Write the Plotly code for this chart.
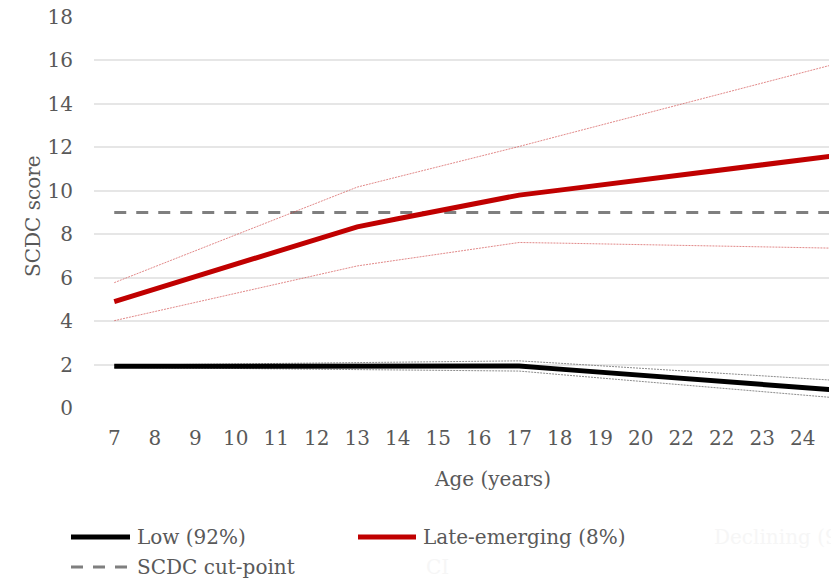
import plotly.graph_objects as go

# Age categories (as labelled on the axis) and a trailing age beyond the visible range
ages = ["7", "8", "9", "10", "11", "12", "13", "14", "15", "16", "17",
        "18", "19", "20", "22", "22", "23", "24", "25"]

# Low trajectory (92%) with confidence interval
low_mean = [1.92, 1.92, 1.92, 1.92, 1.92, 1.91, 1.91, 1.91, 1.91, 1.92, 1.93,
            1.79, 1.65, 1.51, 1.37, 1.23, 1.09, 0.94, 0.80]
low_upper = [1.97, 1.99, 2.01, 2.03, 2.05, 2.07, 2.09, 2.11, 2.13, 2.15, 2.17,
             2.06, 1.94, 1.83, 1.71, 1.60, 1.48, 1.37, 1.25]
low_lower = [1.87, 1.85, 1.83, 1.82, 1.80, 1.78, 1.77, 1.75, 1.73, 1.72, 1.70,
             1.54, 1.38, 1.23, 1.07, 0.91, 0.75, 0.60, 0.44]

# Late-emerging trajectory (8%) with confidence interval
late_mean = [4.90, 5.47, 6.05, 6.62, 7.19, 7.77, 8.34, 8.71, 9.07, 9.44, 9.80,
             10.03, 10.27, 10.50, 10.73, 10.97, 11.20, 11.43, 11.66]
late_upper = [5.77, 6.50, 7.24, 7.97, 8.70, 9.44, 10.17, 10.64, 11.10, 11.57, 12.04,
              12.53, 13.01, 13.50, 13.98, 14.47, 14.96, 15.44, 15.93]
late_lower = [4.02, 4.44, 4.86, 5.28, 5.70, 6.12, 6.54, 6.81, 7.08, 7.35, 7.62,
              7.59, 7.55, 7.52, 7.48, 7.45, 7.42, 7.38, 7.35]

# Clinical cut-point of the SCDC
cut_point = [9] * len(ages)

y_ticks = [0, 2, 4, 6, 8, 10, 12, 14, 16, 18]

x = list(range(len(ages)))
FONT = "DejaVu Serif"
TXT = "#595959"

fig = go.Figure()

fig.add_trace(go.Scatter(x=x, y=cut_point, mode="lines", name="SCDC cut-point",
                         line=dict(color="#7f7f7f", width=3, dash="12px,10px")))

for series in (late_upper, late_lower):
    fig.add_trace(go.Scatter(x=x, y=series, mode="lines", showlegend=False,
                             line=dict(color="rgba(200,40,40,0.55)", width=1, dash="2px,1px")))
for series in (low_upper, low_lower):
    fig.add_trace(go.Scatter(x=x, y=series, mode="lines", showlegend=False,
                             line=dict(color="#8c8c8c", width=1, dash="2px,1px")))

fig.add_trace(go.Scatter(x=x, y=late_mean, mode="lines", name="Late-emerging (8%)",
                         line=dict(color="#c00000", width=5)))
fig.add_trace(go.Scatter(x=x, y=low_mean, mode="lines", name="Low (92%)",
                         line=dict(color="#000000", width=5)))

fig.update_layout(
    width=831, height=582,
    margin=dict(l=94, r=2, t=17, b=174),
    paper_bgcolor="white", plot_bgcolor="white",
    showlegend=False,
    font=dict(family=FONT, color=TXT, size=20),
    xaxis=dict(range=[-0.5, 17.65], tickmode="array", tickvals=x, ticktext=ages,
               showgrid=False, zeroline=False, showline=False, ticks="",
               tickfont=dict(size=20, color=TXT), ticklabelstandoff=16),
    yaxis=dict(range=[0, 18], tickvals=y_ticks, showgrid=True, gridcolor="#e6e6e6",
               gridwidth=1.5, zeroline=False, showline=False, ticks="",
               tickfont=dict(size=20, color=TXT), ticklabelstandoff=20),
)


def px_x(p):
    return (p - 94) / 735


def px_y(p):
    return (408 - p) / 391


# Axis titles
fig.add_annotation(text="SCDC score", xref="paper", yref="paper", x=px_x(33), y=px_y(216),
                   xanchor="center", yanchor="middle", textangle=-90, showarrow=False,
                   font=dict(size=20, color=TXT))
fig.add_annotation(text="Age (years)", xref="paper", yref="paper", x=px_x(492), y=px_y(479),
                   xanchor="center", yanchor="middle", showarrow=False,
                   font=dict(size=20, color=TXT))

# Legend rows
legend_items = [
    (71, 130, 537, "#000000", 5, "solid", "Low (92%)"),
    (358, 416, 537, "#c00000", 5, "solid", "Late-emerging (8%)"),
    (71, 130, 567, "#7f7f7f", 3, "12px,10px", "SCDC cut-point"),
]
for x0, x1, yy, col, w, dash, label in legend_items:
    fig.add_shape(type="line", xref="paper", yref="paper",
                  x0=px_x(x0), x1=px_x(x1), y0=px_y(yy), y1=px_y(yy),
                  line=dict(color=col, width=w, dash=dash))
    fig.add_annotation(text=label, xref="paper", yref="paper", x=px_x(x1 + 5), y=px_y(yy),
                       xanchor="left", yanchor="middle", showarrow=False,
                       font=dict(size=20, color=TXT))

# Faded legend entries
fig.add_annotation(text="Declining (9%)", xref="paper", yref="paper", x=px_x(712), y=px_y(537),
                   xanchor="left", yanchor="middle", showarrow=False,
                   font=dict(size=20, color="#f6f6f6"))
fig.add_annotation(text="CI", xref="paper", yref="paper", x=px_x(424), y=px_y(567),
                   xanchor="left", yanchor="middle", showarrow=False,
                   font=dict(size=20, color="#f6f6f6"))

fig.write_html("out.html")
